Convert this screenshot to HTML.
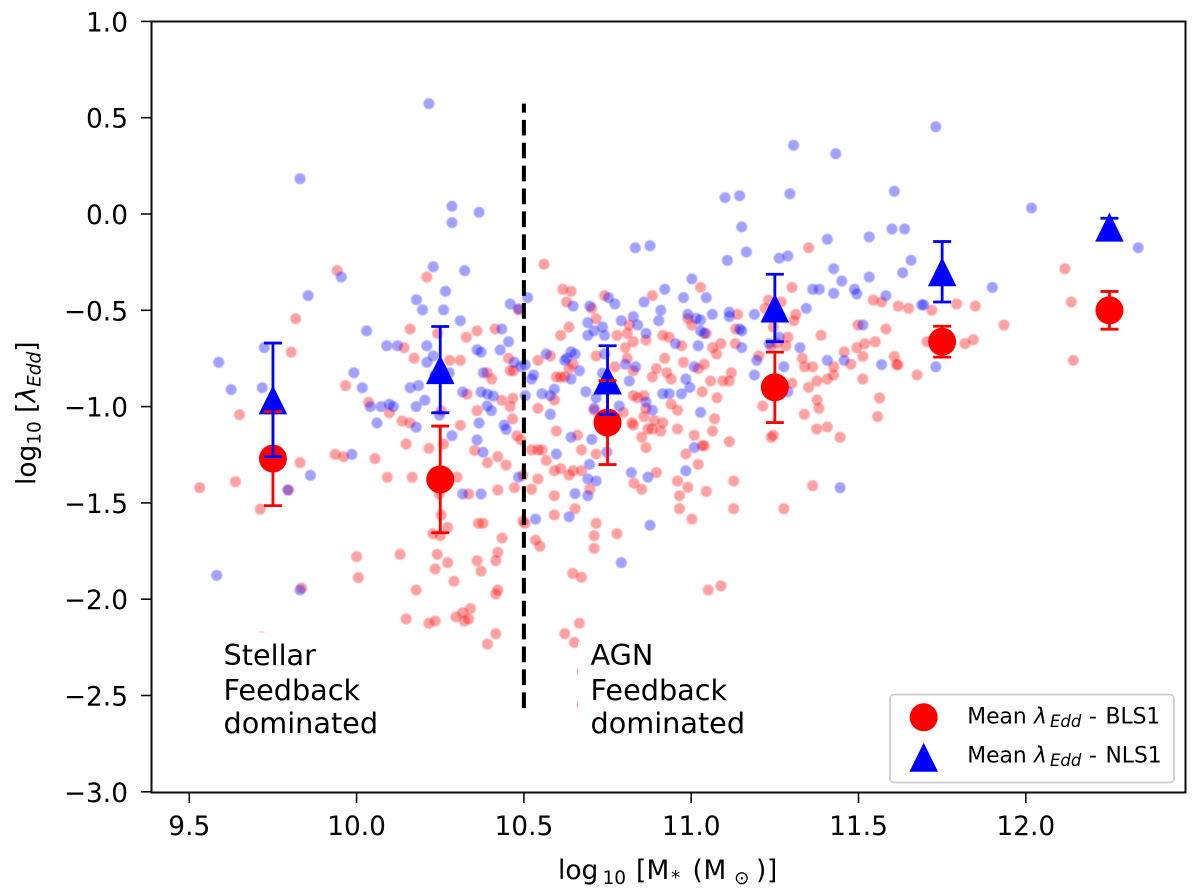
<!DOCTYPE html>
<html lang="en">
<head>
<meta charset="utf-8">
<title>Eddington ratio versus stellar mass</title>
<style>
html,body{margin:0;padding:0;background:#fff;width:1200px;height:895px;overflow:hidden}
svg{display:block}
text{font-family:"DejaVu Sans","Liberation Sans",sans-serif;fill:#000}
</style>
</head>
<body>
<svg id="chart" xmlns="http://www.w3.org/2000/svg" width="1200" height="895" viewBox="0 0 1200 895">
<defs>
<filter id="soft" filterUnits="userSpaceOnUse" x="0" y="0" width="1200" height="895"><feGaussianBlur stdDeviation="0.55"/></filter>
<filter id="softer" filterUnits="userSpaceOnUse" x="0" y="0" width="1200" height="895"><feGaussianBlur stdDeviation="0.3"/></filter>
<clipPath id="plot-clip"><rect x="151.5" y="21.5" width="1034" height="771"/></clipPath>
</defs>
<rect x="151.5" y="21.5" width="1034" height="771" fill="#fff"/>
<g filter="url(#soft)"><g id="marks" clip-path="url(#plot-clip)"></g></g>
<rect x="216" y="632.5" width="165" height="108" fill="#fff"/>
<rect x="578" y="642" width="172" height="98" fill="#fff"/>
<line id="divider" stroke="#000" stroke-width="4" stroke-dasharray="15.7 7.2" filter="url(#softer)"/>
<g id="means" filter="url(#softer)"></g>
<g filter="url(#softer)">
<g font-size="28.7">
<text x="223.5" y="665">Stellar</text>
<text x="223.5" y="700">Feedback</text>
<text x="223.5" y="733">dominated</text>
</g>
<g font-size="28.7">
<text x="590.5" y="665">AGN</text>
<text x="590.5" y="700">Feedback</text>
<text x="590.5" y="733">dominated</text>
</g>
<rect x="151.5" y="21.5" width="1034" height="771" fill="none" stroke="#111" stroke-width="2"/>
<g id="axes"></g>
<text y="879" font-size="26.4"><tspan x="558">log</tspan><tspan x="602.5" y="884" font-size="18.5">10</tspan><tspan x="636" y="879">[</tspan><tspan x="646.5">M</tspan><tspan x="671" y="884" font-size="18.5">*</tspan><tspan x="692.5" y="879">(</tspan><tspan x="703.5">M</tspan><tspan x="734" y="884" font-size="18.5">⊙</tspan><tspan x="756" y="879">)</tspan><tspan x="767">]</tspan></text>
<text transform="translate(35.5 485) rotate(-90)" font-size="26.4">log<tspan font-size="18.5" dy="5">10</tspan><tspan dy="-5"> [</tspan><tspan font-style="italic">λ</tspan><tspan font-size="18.5" font-style="italic" dy="5">Edd</tspan><tspan dy="-5">]</tspan></text>
<g>
<rect x="890" y="694.5" width="284" height="88" rx="4" fill="#fff" fill-opacity="0.8" stroke="#ccc" stroke-width="1.8"/>
<circle cx="923.7" cy="717.3" r="14" fill="#ff0000"/>
<polygon points="923.7,742.7 938,771.7 909.4,771.7" fill="#0000ff"/>
<text y="723.5" font-size="21.8"><tspan x="967.3">Mean</tspan><tspan x="1034" font-style="italic">λ</tspan><tspan x="1050" y="727" font-size="16.5" font-style="italic">Edd</tspan><tspan x="1089" y="723.5">-</tspan><tspan x="1105.5">BLS1</tspan></text>
<text y="762.5" font-size="21.8"><tspan x="967.3">Mean</tspan><tspan x="1034" font-style="italic">λ</tspan><tspan x="1050" y="766" font-size="16.5" font-style="italic">Edd</tspan><tspan x="1089" y="762.5">-</tspan><tspan x="1105.5">NLS1</tspan></text>
</g>
</g>
<script>
const xTicks = [9.5, 10.0, 10.5, 11.0, 11.5, 12.0];
const xTickLabels = ['9.5', '10.0', '10.5', '11.0', '11.5', '12.0'];
const yTicks = [1.0, 0.5, 0.0, -0.5, -1.0, -1.5, -2.0, -2.5, -3.0];
const yTickLabels = ['1.0', '0.5', '0.0', '\u22120.5', '\u22121.0', '\u22121.5', '\u22122.0', '\u22122.5', '\u22123.0'];

const binCentres = [9.75, 10.25, 10.75, 11.25, 11.75, 12.25];
const bls1Mean = [-1.27, -1.378, -1.083, -0.9, -0.663, -0.5];
const bls1Err = [0.244, 0.277, 0.218, 0.183, 0.08, 0.098];
const nls1Mean = [-0.965, -0.808, -0.862, -0.488, -0.3, -0.068];
const nls1Err = [0.295, 0.224, 0.178, 0.175, 0.157, 0.046];
const dividerMass = [10.5, 10.5];
const dividerRate = [-2.565, 0.573];

const nlsMass = [10.216,9.831,10.285,10.285,10.366,10.229,10.323,9.954,9.855,10.266,10.179,10.197,10.26,10.31,10.459,10.484,10.434,10.03,10.09,10.122,10.21,10.229,10.21,10.454,10.36,10.372,10.429,10.471,10.491,9.724,9.588,9.992,10.277,10.379,10.235,
10.017,9.625,9.718,10.16,10.185,10.204,10.178,10.041,10.073,10.098,10.11,10.061,10.178,10.317,10.372,10.391,10.409,10.39,10.403,10.366,10.441,10.447,10.285,10.36,10.378,9.986,9.862,9.794,10.248,10.484,10.317,10.372,9.582,9.831,
10.833,10.877,11.108,11.165,11.263,11.289,11.407,11.426,11.45,11.426,11.363,11.383,11.488,11.495,11.344,11.002,10.921,10.977,11.045,10.859,10.511,10.647,10.697,10.753,10.772,10.909,10.903,10.99,11.015,11.028,11.063,11.114,11.114,11.189,10.827,10.791,10.84,10.691,10.71,10.735,10.691,10.741,10.865,11.028,11.039,11.145,11.151,10.953,11.021,11.151,11.263,11.233,11.325,10.567,10.641,10.653,10.628,10.622,10.741,10.504,10.529,10.523,10.666,10.641,10.803,10.834,10.815,11.009,10.984,10.996,11.196,11.189,11.277,11.407,11.457,10.735,10.591,10.579,10.554,10.504,10.685,10.716,10.71,10.785,10.865,10.884,10.934,10.915,10.971,11.289,10.579,11.028,10.641,10.703,10.748,11.009,10.597,10.696,10.821,10.871,10.984,10.691,10.716,10.653,10.691,11.445,
10.535,10.635,10.877,10.791,
11.731,11.607,12.017,11.6,11.638,11.532,11.657,11.632,11.532,12.336,11.582,11.689,11.695,11.9,11.513,11.569,11.731,
11.306,11.432,11.101,11.145,11.295,11.151];
const nlsRate = [0.573,0.183,0.04,-0.045,0.009,-0.274,-0.294,-0.327,-0.424,-0.401,-0.445,-0.498,-0.498,-0.554,-0.467,-0.492,-0.597,-0.607,-0.684,-0.684,-0.684,-0.737,-0.77,-0.663,-0.705,-0.717,-0.706,-0.77,-0.791,-0.694,-0.77,-0.824,-0.824,-0.824,-0.836,
-0.902,-0.912,-0.902,-0.902,-0.891,-0.967,-1.0,-1.0,-1.0,-0.988,-1.0,-1.085,-1.107,-0.924,-0.924,-0.935,-0.945,-0.997,-1.021,-1.085,-1.096,-1.118,-1.151,-1.173,-1.237,-1.248,-1.357,-1.433,-1.044,-1.367,-1.454,-1.454,-1.876,-1.952,
-0.175,-0.165,-0.241,-0.197,-0.23,-0.218,-0.131,-0.284,-0.348,-0.412,-0.391,-0.391,-0.391,-0.415,-0.49,-0.337,-0.391,-0.434,-0.434,-0.457,-0.434,-0.478,-0.478,-0.434,-0.467,-0.5,-0.554,-0.521,-0.542,-0.55,-0.521,-0.51,-0.533,-0.521,-0.533,-0.554,-0.576,-0.564,-0.607,-0.587,-0.63,-0.63,-0.62,-0.607,-0.62,-0.597,-0.607,-0.673,-0.684,-0.694,-0.64,-0.673,-0.694,-0.727,-0.715,-0.727,-0.749,-0.76,-0.727,-0.784,-0.836,-0.857,-0.814,-0.857,-0.78,-0.793,-0.867,-0.793,-0.857,-0.9,-0.76,-0.836,-0.793,-0.76,-0.76,-0.827,-0.91,-0.943,-0.933,-0.943,-0.923,-0.954,-1.009,-0.997,-0.976,-1.019,-0.933,-0.933,-0.933,-0.923,-1.04,-1.03,-1.159,-1.17,-1.236,-1.213,-1.246,-1.3,-1.343,-1.366,-1.333,-1.376,-1.386,-1.452,-1.463,-1.421,
-1.584,-1.572,-1.616,-1.81,
0.453,0.118,0.031,-0.078,-0.078,-0.119,-0.24,-0.305,-0.327,-0.175,-0.424,-0.472,-0.472,-0.381,-0.576,-0.782,-0.793,
0.357,0.313,0.085,0.095,0.105,-0.067];

const blsMass = [9.942,10.21,10.484,9.818,10.16,10.242,10.36,10.328,10.414,9.805,10.142,10.172,10.278,10.31,10.454,10.459,10.469,10.39,10.404,10.235,
9.967,10.036,10.098,10.136,10.16,10.33,10.36,10.434,10.467,10.459,10.466,10.253,9.65,10.31,10.148,10.216,10.26,10.353,10.479,10.491,9.936,9.961,9.831,10.055,10.422,10.391,10.447,10.092,10.166,10.3,10.497,9.638,9.531,9.797,10.247,10.335,10.422,10.472,9.712,10.253,10.364,10.378,10.272,10.228,10.25,10.497,10.435,10.422,10.416,10.0,10.13,10.241,10.36,10.272,10.235,10.372,10.005,10.291,10.178,9.836,10.422,10.416,10.34,10.317,10.297,10.335,10.322,10.148,10.235,10.216,10.416,10.391,9.717,
10.56,11.351,10.616,10.641,10.628,10.741,10.884,11.028,11.301,10.703,10.716,10.635,10.61,10.99,11.002,11.139,11.313,11.307,11.231,11.269,11.221,11.245,10.815,10.809,10.778,10.827,10.865,10.915,10.934,10.971,11.045,11.133,11.132,11.089,11.064,11.076,11.388,11.499,11.289,11.283,11.257,11.239,11.202,11.332,11.339,11.363,10.803,10.809,10.716,10.579,10.542,10.647,10.772,10.921,10.977,11.039,11.021,10.896,10.884,10.927,10.94,10.827,10.597,10.61,10.622,10.635,11.058,11.095,11.114,11.12,11.426,11.477,11.457,11.495,11.426,11.407,11.376,11.351,11.301,11.033,11.077,10.591,10.542,10.827,10.84,10.859,10.865,10.94,10.959,10.797,10.71,11.376,11.382,11.214,11.338,10.859,10.823,10.827,10.915,10.89,10.871,10.884,10.909,10.959,11.07,11.064,10.597,10.66,10.852,11.009,11.114,11.375,11.407,11.445,11.239,11.245,10.865,11.033,11.039,10.672,10.523,10.542,10.554,10.984,10.716,10.567,11.021,10.591,10.61,10.647,10.635,10.672,10.542,10.896,10.959,11.127,10.829,10.852,10.99,11.045,10.965,11.363,10.523,10.591,10.697,
10.653,10.591,10.965,11.127,11.277,11.002,10.716,10.503,10.71,10.778,10.71,10.535,10.548,10.646,10.672,11.089,11.051,10.666,10.622,10.651,10.674,10.674,
12.117,12.136,12.142,11.544,11.569,11.619,11.65,11.719,11.793,11.849,11.935,11.582,11.55,11.519,11.513,11.607,11.614,11.618,11.675,11.513,11.563,11.557,11.818,11.843,11.705];
const blsRate = [-0.294,-0.327,-0.498,-0.544,-0.597,-0.62,-0.607,-0.64,-0.597,-0.717,-0.694,-0.749,-0.76,-0.76,-0.749,-0.813,-0.813,-0.824,-0.857,-0.836,
-0.891,-0.978,-1.032,-1.075,-1.085,-0.935,-1.021,-0.967,-0.957,-1.0,-1.064,-1.021,-1.042,-1.097,-1.194,-1.217,-1.194,-1.227,-1.151,-1.173,-1.248,-1.26,-1.291,-1.27,-1.26,-1.291,-1.303,-1.367,-1.367,-1.367,-1.357,-1.39,-1.421,-1.433,-1.454,-1.454,-1.433,-1.421,-1.532,-1.563,-1.606,-1.606,-1.627,-1.66,-1.67,-1.594,-1.682,-1.757,-1.8,-1.779,-1.767,-1.767,-1.8,-1.81,-1.843,-1.854,-1.888,-1.907,-1.952,-1.942,-1.952,-1.973,-2.049,-2.07,-2.092,-2.103,-2.113,-2.103,-2.113,-2.125,-2.179,-2.233,-2.196,
-0.261,-0.175,-0.391,-0.401,-0.457,-0.424,-0.424,-0.381,-0.381,-0.49,-0.544,-0.587,-0.63,-0.542,-0.576,-0.521,-0.521,-0.554,-0.447,-0.457,-0.49,-0.587,-0.576,-0.62,-0.63,-0.663,-0.654,-0.63,-0.64,-0.684,-0.62,-0.597,-0.673,-0.673,-0.694,-0.727,-0.63,-0.576,-0.64,-0.684,-0.671,-0.684,-0.737,-0.749,-0.793,-0.793,-0.694,-0.749,-0.737,-0.737,-0.76,-0.78,-0.793,-0.749,-0.77,-0.78,-0.803,-0.803,-0.846,-0.824,-0.857,-0.814,-0.846,-0.846,-0.846,-0.803,-0.867,-0.867,-0.867,-0.824,-0.793,-0.78,-0.716,-0.694,-0.836,-0.857,-0.867,-0.9,-0.879,-0.923,-0.954,-0.966,-1.009,-0.943,-0.954,-0.943,-1.009,-0.987,-1.019,-1.03,-1.019,-0.966,-1.009,-0.997,-1.04,-1.052,-1.084,-1.096,-1.084,-1.073,-1.116,-1.116,-1.127,-1.116,-1.063,-1.127,-1.127,-1.149,-1.159,-1.149,-1.182,-1.116,-1.106,-1.159,-1.159,-1.149,-1.213,-1.203,-1.203,-1.225,-1.225,-1.225,-1.225,-1.246,-1.246,-1.279,-1.3,-1.333,-1.322,-1.333,-1.355,-1.333,-1.376,-1.343,-1.386,-1.386,-1.398,-1.429,-1.419,-1.44,-1.463,-1.411,-1.429,-1.463,-1.429,
-1.53,-1.563,-1.53,-1.53,-1.53,-1.584,-1.606,-1.606,-1.67,-1.66,-1.736,-1.693,-1.725,-1.866,-1.886,-1.931,-1.952,-2.125,-2.179,-2.224,-2.376,-2.549,
-0.284,-0.457,-0.76,-0.447,-0.457,-0.478,-0.49,-0.5,-0.467,-0.478,-0.576,-0.597,-0.663,-0.673,-0.739,-0.739,-0.782,-0.782,-0.836,-0.857,-0.955,-1.052,-0.673,-0.653,-0.663];

const SVG_NS = 'http://www.w3.org/2000/svg';
const xScale = v => 523.9 + (v - 10.5) * 334.6;
const yScale = v => 214 - v * 192.6;
const capHalf = 9;

function mk(tag, attrs, parent) {
  const el = document.createElementNS(SVG_NS, tag);
  for (const k in attrs) el.setAttribute(k, attrs[k]);
  parent.appendChild(el);
  return el;
}

const marks = document.getElementById('marks');
const means = document.getElementById('means');
const axes = document.getElementById('axes');

blsMass.forEach((m, i) => {
  const el = mk('circle', {cx: xScale(m), cy: yScale(blsRate[i]), r: 5.5, fill: '#ff0000', 'fill-opacity': 0.37}, marks);
  
  
});
nlsMass.forEach((m, i) => {
  const el = mk('circle', {cx: xScale(m), cy: yScale(nlsRate[i]), r: 5.5, fill: '#0000ff', 'fill-opacity': 0.37}, marks);
  
  
});

const divider = document.getElementById('divider');
divider.setAttribute('x1', xScale(dividerMass[0]));
divider.setAttribute('x2', xScale(dividerMass[1]));
divider.setAttribute('y1', yScale(dividerRate[0]));
divider.setAttribute('y2', yScale(dividerRate[1]));

binCentres.forEach((c, i) => {
  const x = xScale(c);
  const circle = mk('circle', {cx: x, cy: yScale(bls1Mean[i]), r: 14, fill: '#ff0000'}, means);
  
  
});
binCentres.forEach((c, i) => {
  const x = xScale(c);
  const y = yScale(nls1Mean[i]);
  const tri = mk('polygon', {points: `${x},${y - 14.5} ${x + 14.3},${y + 14.5} ${x - 14.3},${y + 14.5}`, fill: '#0000ff'}, means);
  
  
});

function errorBar(c, mean, err, colour, name) {
  const x = xScale(c);
  const top = yScale(mean + err);
  const bottom = yScale(mean - err);
  const g = mk('g', {stroke: colour, 'stroke-width': 2.8, fill: 'none'}, means);
  
  
  mk('line', {x1: x, x2: x, y1: top, y2: bottom}, g);
  mk('line', {x1: x - capHalf, x2: x + capHalf, y1: top, y2: top}, g);
  mk('line', {x1: x - capHalf, x2: x + capHalf, y1: bottom, y2: bottom}, g);
}
binCentres.forEach((c, i) => errorBar(c, bls1Mean[i], bls1Err[i], '#ff0000', 'bls1-error-bar'));
binCentres.forEach((c, i) => errorBar(c, nls1Mean[i], nls1Err[i], '#0000ff', 'nls1-error-bar'));

xTicks.forEach((t, i) => {
  const x = xScale(t);
  const tick = mk('line', {x1: x, x2: x, y1: 792.5, y2: 803, stroke: '#111', 'stroke-width': 1.6}, axes);
  
  
  const label = mk('text', {x: x, y: 835, 'text-anchor': 'middle', 'font-size': 26.4}, axes);
  label.textContent = xTickLabels[i];
  
  
});
yTicks.forEach((t, i) => {
  const y = yScale(t);
  const tick = mk('line', {x1: 141, x2: 151.5, y1: y, y2: y, stroke: '#111', 'stroke-width': 1.6}, axes);
  
  
  const label = mk('text', {x: 128, y: y + 10, 'text-anchor': 'end', 'font-size': 26.4}, axes);
  label.textContent = yTickLabels[i];
  
  
});
</script>
</svg>
</body>
</html>
